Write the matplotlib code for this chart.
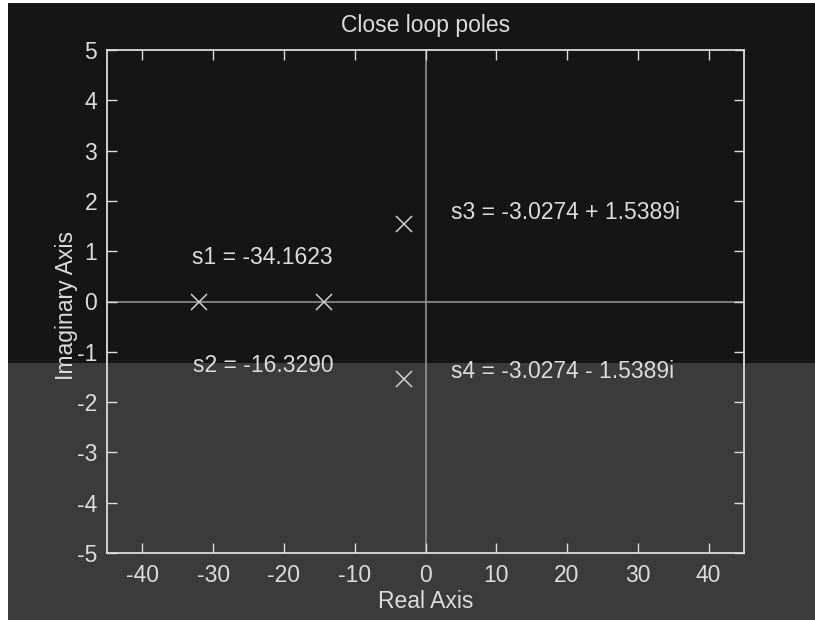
import matplotlib
matplotlib.use("Agg")
import matplotlib.pyplot as plt
from matplotlib.patches import Rectangle

plt.rcParams['font.family'] = ['Liberation Sans', 'DejaVu Sans']
plt.rcParams['axes.unicode_minus'] = False

# Data
pole_real = [-32.0, -14.3, -3.0274, -3.0274]
pole_imag = [0.0, 0.0, 1.5389, -1.5389]
labels = ["s1 = -34.1623", "s2 = -16.3290", "s3 = -3.0274 + 1.5389i", "s4 = -3.0274 - 1.5389i"]
label_x = [-33.0, -32.9, 3.6, 3.6]
label_y = [0.87, -1.27, 1.77, -1.39]
xticks = [-40, -30, -20, -10, 0, 10, 20, 30, 40]
yticks = [-5, -4, -3, -2, -1, 0, 1, 2, 3, 4, 5]

fg = '#dcdcdc'
fs = 16.5
fig = plt.figure(figsize=(8.15, 6.2), dpi=100)
fig.patch.set_facecolor('#151515')
# scan artefacts: lighter lower band and white edges
fig.patches.append(Rectangle((0, 0), 1, (620 - 363) / 620, transform=fig.transFigure,
                             facecolor='#3b3b3b', edgecolor='none', zorder=-10))
fig.patches.append(Rectangle((0, 0), 8 / 815, 1, transform=fig.transFigure,
                             facecolor='white', edgecolor='none', zorder=-9))
fig.patches.append(Rectangle((0, 1 - 3 / 620), 1, 3 / 620, transform=fig.transFigure,
                             facecolor='white', edgecolor='none', zorder=-9))

ax = fig.add_axes([107 / 815, 1 - 553 / 620, (744 - 107) / 815, (553 - 50) / 620])
ax.set_facecolor('none')
ax.set_xlim(-45, 45)
ax.set_ylim(-5, 5)
ax.axhline(0, color='#999999', lw=1.1, zorder=1)
ax.axvline(0, color='#999999', lw=1.1, zorder=1)
ax.plot(pole_real, pole_imag, linestyle='none', marker='x', markersize=12,
        markeredgewidth=1.1, color='#d0d0d0', zorder=3)
for t, x, y in zip(labels, label_x, label_y):
    ax.text(x, y, t, color=fg, fontsize=fs, va='center', ha='left')

ax.set_xticks(xticks)
ax.set_yticks(yticks)
ax.tick_params(direction='in', length=7, width=1, colors=fg, labelsize=fs,
               top=True, right=True, labelcolor=fg)
ax.tick_params(axis='x', pad=8)
ax.tick_params(axis='y', pad=7)
for s in ax.spines.values():
    s.set_color(fg)
    s.set_linewidth(1.3)
ax.set_title("Close loop poles", color=fg, fontsize=fs, pad=13)
ax.set_xlabel("Real Axis", color=fg, fontsize=fs, va='center')
ax.set_ylabel("Imaginary Axis", color=fg, fontsize=fs, va='center')
ax.xaxis.set_label_coords((426 - 107) / 637, -(601 - 553) / 503)
ax.yaxis.set_label_coords(-(107 - 67) / 637, (553 - 305) / 503)

fig.savefig("out.png", dpi=100, facecolor=fig.get_facecolor())
